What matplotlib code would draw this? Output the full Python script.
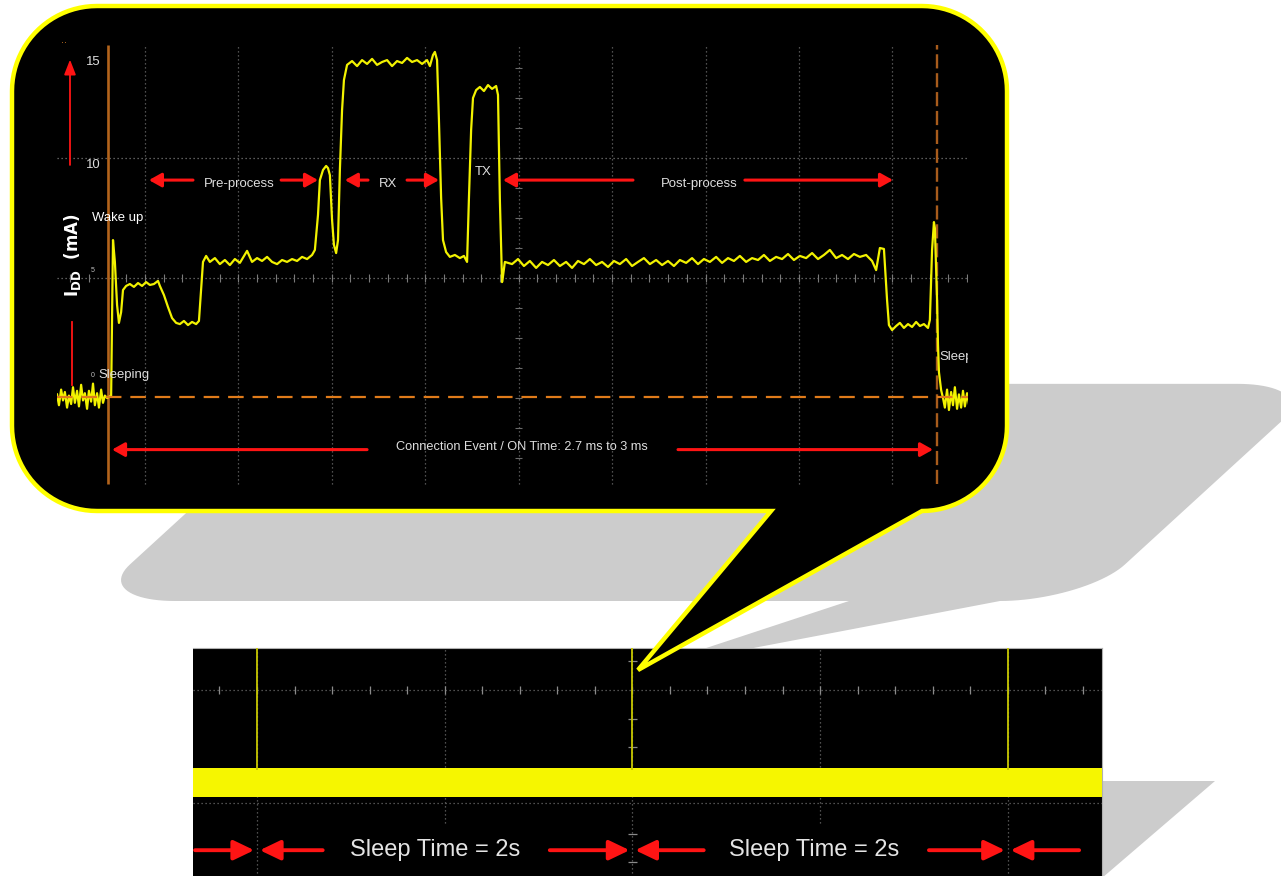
import numpy as np
import matplotlib
matplotlib.use("Agg")
import matplotlib.pyplot as plt
from matplotlib.patches import Polygon
from matplotlib import font_manager

# ---------------- trace data: supply current during one BLE connection event ----------------
# time in microseconds (0 = wake-up cursor), current in mA
sleep_in_t = [-163, -157, -150, -144, -138, -131, -125, -118, -112, -106,
              -99, -93, -86, -80, -74, -67, -61, -54, -48, -42,
              -35, -29, -22, -16, -10, -3]
sleep_in_ma = [0.15, -0.30, 0.35, -0.10, 0.25, -0.40, 0.10, -0.25, 0.45, -0.20,
               0.30, -0.35, 0.55, -0.10, 0.20, -0.45, 0.30, -0.15, 0.60, -0.30,
               0.20, -0.40, 0.35, -0.20, 0.10, 0.00]

wake_t = [10, 16, 22, 29, 35, 42, 48, 58, 70, 83,
          96, 109, 122, 134, 147, 160, 166, 179, 192, 205,
          218, 230, 243, 256, 269, 282, 291]
wake_ma = [0.10, 6.58, 5.67, 3.88, 3.13, 3.58, 4.50, 4.67, 4.75, 4.63,
           4.79, 4.67, 4.83, 4.71, 4.75, 4.88, 4.67, 4.29, 3.79, 3.33,
           3.13, 3.08, 3.21, 3.04, 3.17, 3.08, 3.21]

preproc_t = [298, 304, 314, 326, 342, 358, 374, 390, 406, 422,
             445, 461, 477, 493, 509, 525, 541, 557, 573, 589,
             605, 621, 637, 653, 662, 672, 678, 688, 698, 704,
             710, 717, 723, 730, 736]
preproc_ma = [4.50, 5.67, 5.92, 5.67, 5.83, 5.58, 5.75, 5.54, 5.79, 5.63,
              6.13, 5.67, 5.83, 5.71, 5.88, 5.67, 5.58, 5.75, 5.67, 5.79,
              5.71, 5.88, 5.79, 5.96, 6.17, 7.63, 9.08, 9.50, 9.67, 9.58,
              9.29, 7.42, 6.38, 6.04, 6.58]

rx_t = [742, 749, 755, 765, 781, 797, 813, 829, 845, 861,
        877, 893, 909, 925, 941, 957, 973, 989, 1005, 1021,
        1030, 1040, 1046, 1053, 1059, 1066, 1072, 1082, 1094, 1110,
        1126, 1139, 1149]
rx_ma = [9.50, 12.00, 13.25, 13.88, 14.04, 13.83, 14.08, 13.92, 14.13, 13.88,
         14.00, 14.08, 13.83, 14.04, 13.96, 14.17, 14.00, 14.08, 13.92, 14.08,
         13.83, 14.29, 14.42, 14.08, 11.58, 8.33, 6.58, 6.08, 5.88, 5.96,
         5.83, 5.92, 5.67]

tx_t = [1155, 1162, 1168, 1178, 1190, 1203, 1216, 1229, 1242, 1248, 1254, 1261, 1264, 1270]
tx_ma = [8.33, 11.17, 12.50, 12.83, 12.96, 12.79, 13.04, 12.88, 13.00, 12.63, 8.25, 4.83, 5.08, 5.67]

postproc_t = [1293, 1312, 1331, 1350, 1370, 1389, 1408, 1427, 1446, 1466,
              1485, 1504, 1523, 1542, 1562, 1581, 1600, 1619, 1638, 1658,
              1677, 1696, 1715, 1734, 1754, 1773, 1792, 1811, 1830, 1850,
              1869, 1888, 1907, 1926, 1946, 1965, 1984, 2003, 2022, 2042,
              2061, 2080, 2099, 2118, 2138, 2157, 2176, 2195, 2214, 2234,
              2253, 2272, 2291, 2310, 2330, 2349, 2368, 2387, 2406, 2426,
              2445, 2458, 2470, 2483]
postproc_ma = [5.58, 5.79, 5.50, 5.71, 5.42, 5.67, 5.54, 5.75, 5.50, 5.67,
               5.42, 5.71, 5.58, 5.79, 5.54, 5.67, 5.46, 5.71, 5.58, 5.79,
               5.50, 5.67, 5.83, 5.58, 5.75, 5.54, 5.71, 5.50, 5.75, 5.63,
               5.83, 5.58, 5.79, 5.67, 5.88, 5.63, 5.83, 5.71, 5.92, 5.67,
               5.83, 5.75, 5.96, 5.71, 5.88, 5.79, 6.00, 5.75, 5.92, 5.83,
               6.04, 5.79, 5.96, 6.17, 5.83, 5.96, 5.79, 6.00, 5.88, 5.96,
               5.71, 5.33, 6.25, 6.21]

final_t = [2493, 2499, 2509, 2522, 2534, 2547, 2560, 2573, 2586, 2598,
           2611, 2624, 2630, 2637, 2643, 2646, 2653, 2656, 2659, 2666, 2672]
final_ma = [4.08, 3.04, 2.83, 3.00, 3.13, 2.92, 3.08, 2.96, 3.17, 3.00,
            3.08, 2.92, 3.25, 6.17, 7.33, 7.08, 4.08, 2.21, 1.08, 0.33, 0.00]

sleep_out_t = [2678, 2685, 2691, 2698, 2704, 2710, 2717, 2723, 2730, 2736, 2742, 2749, 2755]
sleep_out_ma = [-0.40, 0.35, -0.50, 0.25, -0.30, 0.45, -0.45, 0.15, -0.40, 0.30, -0.35, 0.20, -0.25]

# cursors and phase annotations (µs)
wake_cursor_us = 0
sleep_cursor_us = 2653
grid_t_us = [118, 417, 716, 1015, 1314, 1613, 1912, 2211, 2510]
phase_labels = ["Pre-process", "RX", "TX", "Post-process"]
phase_label_t = [419, 896, 1200, 1891]
phase_label_ma = [8.92, 8.92, 9.42, 8.92]
phase_arrows = [(272, 131), (554, 672), (832, 758), (957, 1059), (1680, 1264), (2038, 2512)]
phase_arrow_ma = 9.08
conn_label = "Connection Event / ON Time: 2.7 ms to 3 ms"
conn_arrows = [(829, 13), (1824, 2640)]
conn_ma = -2.15

ytick_text = ["15", "10", "5", "0"]
ytick_ma = [14.0, 9.71, 5.33, 0.92]

# long time base: sleep between events (s)
event_times_s = [0, 2, 4]
sleep_label = "Sleep Time = 2s"
sleep_label_t = [0.95, 2.97]
sleep_arrows = [(-0.33, -0.015), (0.35, 0.015), (1.56, 1.985), (2.38, 2.015), (3.58, 3.985), (4.38, 4.015)]

# ---------------- fonts ----------------
names = {f.name for f in font_manager.fontManager.ttflist}
if "Liberation Sans Narrow" in names:
    NARROW, NS = "Liberation Sans Narrow", 1.12
elif "Liberation Sans" in names:
    NARROW, NS = "Liberation Sans", 0.9
else:
    NARROW, NS = "DejaVu Sans", 0.82
REGULAR = "Liberation Sans" if "Liberation Sans" in names else "DejaVu Sans"

W, H = 1281, 876
fig = plt.figure(figsize=(W / 100, H / 100), dpi=100)
fig.patch.set_facecolor("white")

YEL = "#ffff00"
RED = "#ff1414"
GRAT = "#6a6a6a"
TXT = "#dedede"


def px_axes(x0, y0, x1, y1, z):
    a = fig.add_axes([x0 / W, 1 - y1 / H, (x1 - x0) / W, (y1 - y0) / H])
    a.set_zorder(z)
    return a


def arc(cx, cy, r, a0, a1, n=24):
    a = np.radians(np.linspace(a0, a1, n))
    return np.column_stack([cx + r * np.cos(a), cy + r * np.sin(a)])


# callout outline in pixel space (y grows downward)
L, T, R, B, RAD = 12, 6, 1007, 511, 85
outline = np.vstack([
    arc(L + RAD, T + RAD, RAD, 180, 270),
    arc(R - RAD, T + RAD, RAD, 270, 360),
    arc(R - RAD, B - RAD, RAD, 0, 90),
    [(638, 670)],
    [(771, B)],
    arc(L + RAD, B - RAD, RAD, 90, 180),
])

# projected shadow of the callout
depth = B - outline[:, 1]
shadow = np.column_stack([outline[:, 0] + 0.47 * depth + 78, 601 - 0.43 * depth])

bg = px_axes(0, 0, W, H, 0)
bg.set_xlim(0, W)
bg.set_ylim(H, 0)
bg.axis("off")
bg.add_patch(Polygon(shadow, closed=True, facecolor="#cccccc", edgecolor="none"))
bg.add_patch(Polygon([(1102, 781), (1215, 781), (1102, 878)], closed=True,
                     facecolor="#cccccc", edgecolor="none"))

# ---------------- long time-base scope ----------------
lo = px_axes(193, 648, 1102, 876, 1)
lo.set_facecolor("black")
lo.set_xlim(-0.341, 4.502)
lo.set_ylim(-3.13, 4.47)
lo.set_xticks([])
lo.set_yticks([])
for s in ["left", "bottom"]:
    lo.spines[s].set_visible(False)
for s in ["top", "right"]:
    lo.spines[s].set_color("#b0b0b0")
    lo.spines[s].set_linewidth(0.8)

dot = (0, (1, 2.2))
lo.vlines([0, 2, 4], -3.2, 4.5, colors=GRAT, lw=0.9, linestyles=[dot])
lo.vlines([1, 3], -1.37, 4.5, colors=GRAT, lw=0.9, linestyles=[dot])
lo.axhline(3.07, color=GRAT, lw=0.9, ls=dot)
lo.axhline(-0.70, color=GRAT, lw=0.9, ls=dot)
lo.vlines(np.arange(-0.2, 4.5, 0.2), 3.07 - 0.13, 3.07 + 0.13, colors="#8a8a8a", lw=0.9)
lo.hlines(3.07 + 0.957 * np.array([1, -1, -2, -3, -5, -6]), 2 - 0.025, 2 + 0.025, colors="#8a8a8a", lw=0.9)
lo.axhspan(-0.50, 0.48, color="#f6f600", lw=0, zorder=3)
lo.vlines(event_times_s, 0.4, 5, colors="#c8c800", lw=1.3, zorder=3)
for tx_ in sleep_label_t:
    lo.text(tx_, -2.27, sleep_label, color="#e4e4e4", fontsize=17, family=REGULAR,
            ha="center", va="center", zorder=5)
for tail, head in sleep_arrows:
    lo.annotate("", xy=(head, -2.27), xytext=(tail, -2.27),
                arrowprops=dict(arrowstyle="-|>,head_length=1.25,head_width=0.6",
                                mutation_scale=10, color=RED, lw=2.8,
                                shrinkA=0, shrinkB=0), zorder=5)

# ---------------- callout body ----------------
fg = px_axes(0, 0, W, H, 2)
fg.set_xlim(0, W)
fg.set_ylim(H, 0)
fg.axis("off")
fg.patch.set_alpha(0)
fg.add_patch(Polygon(outline, closed=True, facecolor="black", edgecolor=YEL,
                     lw=3.2, joinstyle="miter"))

# ---------------- short time-base scope (connection event) ----------------
ax = px_axes(57, 40, 968, 490, 3)
ax.set_xlim(-163.2, 2752)
ax.set_ylim(-3.833, 14.917)
ax.axis("off")
ax.patch.set_alpha(0)

ax.vlines(grid_t_us, -3.6, 14.7, colors=GRAT, lw=0.9, linestyles=[dot], zorder=1)
ax.axhline(10, color="#7a7a7a", lw=0.9, ls=dot, zorder=1)
ax.axhline(5, color="#7a7a7a", lw=0.9, ls=dot, zorder=1)
ax.vlines(np.arange(118 - 59.8 * 4, 2752, 59.8), 4.82, 5.18, colors="#7a7a7a", lw=0.8, zorder=1)
ax.hlines(np.arange(-2.5, 14.5, 1.25), 1314 - 11, 1314 + 11, colors="#6a6a6a", lw=0.8, zorder=1)

ax.vlines(wake_cursor_us, -3.6, 14.7, colors="#b4641c", lw=1.9, zorder=2)
ax.vlines(sleep_cursor_us, -3.6, 14.7, colors="#a85c1c", lw=1.7, linestyles=[(0, (6, 2))], zorder=2)

trace_t = np.concatenate([sleep_in_t, wake_t, preproc_t, rx_t, tx_t, postproc_t, final_t, sleep_out_t])
trace_ma = np.concatenate([sleep_in_ma, wake_ma, preproc_ma, rx_ma, tx_ma, postproc_ma, final_ma, sleep_out_ma])
ax.plot(trace_t, trace_ma, color="#f2f200", lw=1.6, zorder=3, solid_joinstyle="round")
ax.axhline(0.04, color="#e07b1a", lw=1.6, ls=(0, (7, 4)), zorder=4)

# axis labels of the scope screen
for txt, yv in zip(ytick_text, ytick_ma):
    small = txt in ("5", "0")
    ax.text(-48, yv, txt, color="#bdbdbd" if small else TXT, fontsize=5 if small else 10.5 * NS,
            family=NARROW, ha="center", va="center", zorder=5)
ax.text(-140, 14.8, "··", color="#c07020", fontsize=7, ha="center", va="center", zorder=5)
ax.text(-115, 5.96, r"$\mathbf{I_{DD}}$  (mA)", color="white", fontsize=12, fontweight="bold",
        rotation=90, ha="center", va="center", zorder=5)
ax.annotate("", xy=(-121.6, 14.1), xytext=(-121.6, 9.71),
            arrowprops=dict(arrowstyle="-|>,head_length=0.9,head_width=0.35", mutation_scale=10,
                            color=RED, lw=1.3, shrinkA=0, shrinkB=0), zorder=5)
ax.plot([-115, -115], [3.17, 0.54], color=RED, lw=1.3, zorder=5)

ax.text(-51, 7.5, "Wake up", color="white", fontsize=10.5 * NS, family=NARROW, ha="left", va="center", zorder=5)
ax.text(-32, 0.96, "Sleeping", color=TXT, fontsize=10.5 * NS, family=NARROW, ha="left", va="center", zorder=5)
ax.text(2662, 1.71, "Sleep", color=TXT, fontsize=10.5 * NS, family=NARROW, ha="left", va="center",
        zorder=5, clip_on=True)

for lab, tx_, yv in zip(phase_labels, phase_label_t, phase_label_ma):
    ax.text(tx_, yv, lab, color=TXT, fontsize=10.5 * NS, family=NARROW, ha="center", va="center", zorder=5)
for tail, head in phase_arrows:
    ax.annotate("", xy=(head, phase_arrow_ma), xytext=(tail, phase_arrow_ma),
                arrowprops=dict(arrowstyle="-|>,head_length=0.75,head_width=0.42", mutation_scale=10,
                                color=RED, lw=2.2, shrinkA=0, shrinkB=0), zorder=5)

ax.text(1325, -2.04, conn_label, color=TXT, fontsize=10.2 * NS, family=NARROW, ha="center", va="center", zorder=5)
for tail, head in conn_arrows:
    ax.annotate("", xy=(head, conn_ma), xytext=(tail, conn_ma),
                arrowprops=dict(arrowstyle="-|>,head_length=0.75,head_width=0.42", mutation_scale=10,
                                color=RED, lw=2.2, shrinkA=0, shrinkB=0), zorder=5)

fig.savefig("out.png", dpi=100, facecolor="white")
